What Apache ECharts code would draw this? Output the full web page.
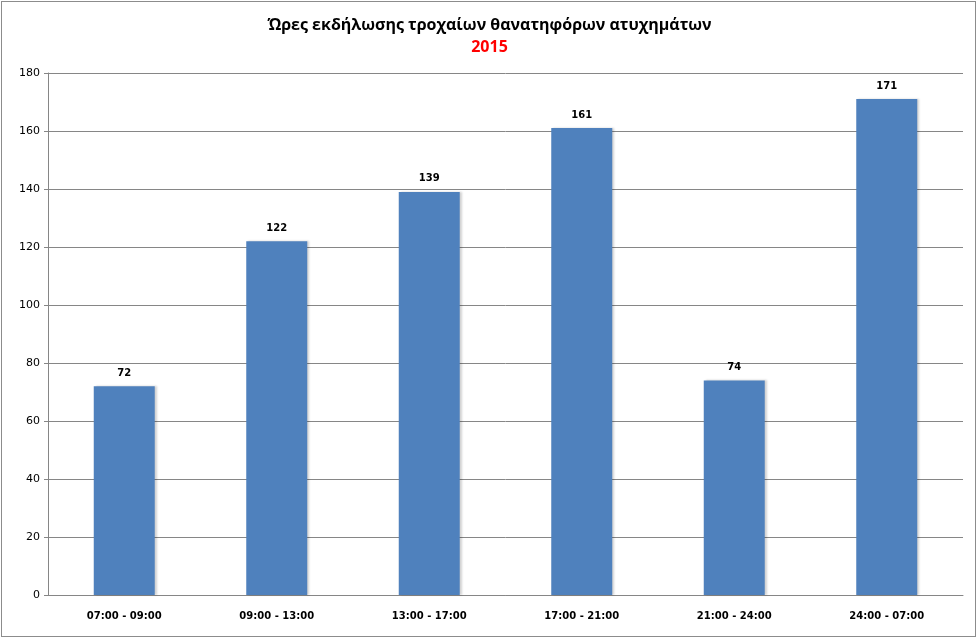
<!DOCTYPE html>
<html>
<head>
<meta charset="utf-8">
<script src="https://cdn.jsdelivr.net/npm/echarts@6/dist/echarts.min.js"></script>
<style>
  html, body { margin: 0; padding: 0; background: #fff; }
  #chart { width: 979px; height: 640px; box-sizing: border-box; }
  #frame { position: absolute; left: 1px; top: 1px; width: 975px; height: 636px; border: 1px solid #8c8c8c; box-sizing: border-box; pointer-events: none; }
</style>
</head>
<body>
<div id="chart"></div>
<div id="frame"></div>
<script>
// Ώρες εκδήλωσης θανατηφόρων ατυχημάτων
const categories = ["07:00 - 09:00", "09:00 - 13:00", "13:00 - 17:00", "17:00 - 21:00", "21:00 - 24:00", "24:00 - 07:00"];
const accidents = [72, 122, 139, 161, 74, 171];
const yTicks = [0, 20, 40, 60, 80, 100, 120, 140, 160, 180];

let chartDom = document.getElementById("chart");
let myChart = echarts.init(chartDom);
let option = {
  animation: false,
  title: {
    text: "Ώρες εκδήλωσης τροχαίων θανατηφόρων ατυχημάτων",
    subtext: "2015",
    left: "center",
    top: 12,
    itemGap: 6,
    textStyle: {
      fontFamily: "Open Sans",
      fontSize: 16,
      fontWeight: "bold",
      color: "#000",
    },
    subtextStyle: {
      fontFamily: "Open Sans",
      fontSize: 16,
      fontWeight: "bold",
      color: "#ff0000",
    },
  },
  grid: {
    left: 48,
    right: 16,
    top: 73,
    bottom: 45,
  },
  xAxis: {
    type: "category",
    data: categories,
    axisLine: { lineStyle: { color: "#868686" } },
    axisTick: { show: false },
    axisLabel: {
      margin: 16,
      fontFamily: "DejaVu Sans",
      fontSize: 10,
      fontWeight: "bold",
      color: "#000",
    },
  },
  yAxis: {
    type: "value",
    min: yTicks[0],
    max: yTicks[yTicks.length - 1],
    interval: 20,
    axisLine: { show: true, lineStyle: { color: "#868686" } },
    axisTick: { show: true, length: 4, lineStyle: { color: "#868686" } },
    splitLine: { lineStyle: { color: "#868686" } },
    axisLabel: {
      margin: 8,
      fontFamily: "DejaVu Sans",
      fontSize: 11,
      color: "#000",
    },
  },
  series: [
    {
      type: "bar",
      data: accidents,
      barWidth: "40%",
      itemStyle: {
        color: "#4f81bd",
        shadowColor: "rgba(0,0,0,0.18)",
        shadowOffsetX: 2,
        shadowBlur: 2,
      },
      label: {
        show: true,
        position: "top",
        distance: 8,
        fontFamily: "DejaVu Sans",
        fontSize: 10,
        fontWeight: "bold",
        color: "#000",
      },
    },
  ],
};

option && myChart.setOption(option);
</script>
</body>
</html>
